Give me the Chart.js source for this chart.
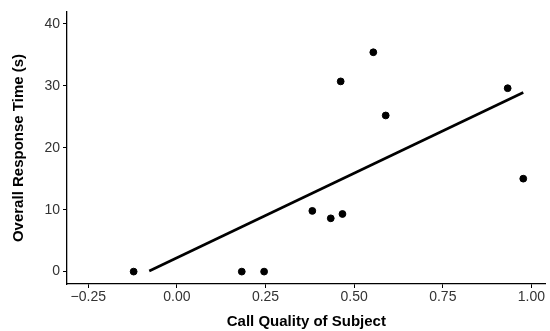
<!DOCTYPE html>
<html lang="en">
<head>
<meta charset="UTF-8" />
<title>Call Quality vs Response Time</title>
<script src="https://cdn.jsdelivr.net/npm/chart.js"></script>
<style>
    body {
        margin: 0;
        background: #fff;
    }
    .chart-box {
        width: 550px;
        height: 331px;
    }
</style>
</head>
<body>

<div class="chart-box">
    <canvas id="scatterChart"></canvas>
</div>

<script>
    // values
    const callQuality = [-0.122, 0.183, 0.246, 0.382, 0.434, 0.467, 0.462, 0.554, 0.589, 0.933, 0.977];
    const responseTime = [0, 0, 0, 9.8, 8.6, 9.3, 30.7, 35.4, 25.2, 29.6, 15.0];

    // fitted line endpoints
    const fitX = [-0.078, 0.977];
    const fitY = [0.1, 28.9];

    const xTicks = [-0.25, 0, 0.25, 0.5, 0.75, 1.0];
    const yTicks = [0, 10, 20, 30, 40];

    const points = callQuality.map((x, i) => ({ x: x, y: responseTime[i] }));
    const fitLine = fitX.map((x, i) => ({ x: x, y: fitY[i] }));

    const tickFont = { family: 'Liberation Sans, Arial, sans-serif', size: 14 };
    const titleFont = { family: 'Liberation Sans, Arial, sans-serif', size: 15, weight: 'bold' };

    const ctx = document.getElementById('scatterChart').getContext('2d');
    new Chart(ctx, {
        type: 'scatter',
        data: {
            datasets: [
                {
                    label: 'Subjects',
                    data: points,
                    backgroundColor: '#000',
                    borderColor: '#000',
                    pointRadius: 3.4,
                    pointHoverRadius: 3.4
                },
                {
                    label: 'Fit',
                    data: fitLine,
                    showLine: true,
                    borderColor: '#000',
                    borderWidth: 2.6,
                    pointRadius: 0,
                    fill: false
                }
            ]
        },
        options: {
            responsive: true,
            maintainAspectRatio: false,
            animation: false,
            layout: { padding: { top: 12, right: 3, left: 0, bottom: 0 } },
            plugins: {
                legend: { display: false },
                tooltip: { enabled: false }
            },
            scales: {
                x: {
                    type: 'linear',
                    min: -0.31,
                    max: 1.04,
                    afterBuildTicks: axis => {
                        axis.ticks = xTicks.map(v => ({ value: v }));
                    },
                    afterFit: axis => { axis.height = 47; },
                    ticks: {
                        color: '#333',
                        font: tickFont,
                        padding: 1,
                        maxRotation: 0,
                        callback: v => v.toFixed(2).replace('-', '\u2212')
                    },
                    grid: {
                        display: true,
                        drawOnChartArea: false,
                        drawTicks: true,
                        tickLength: 4,
                        color: '#000'
                    },
                    border: { display: true, color: '#000', width: 1.3 },
                    title: {
                        display: true,
                        text: 'Call Quality of Subject',
                        color: '#000',
                        font: titleFont,
                        padding: { top: 0, bottom: 0 }
                    }
                },
                y: {
                    type: 'linear',
                    min: -2.0,
                    max: 41.9,
                    afterBuildTicks: axis => {
                        axis.ticks = yTicks.map(v => ({ value: v }));
                    },
                    afterFit: axis => { axis.width = 67; },
                    ticks: {
                        color: '#333',
                        font: tickFont,
                        padding: 3
                    },
                    grid: {
                        display: true,
                        drawOnChartArea: false,
                        drawTicks: true,
                        tickLength: 4,
                        color: '#000'
                    },
                    border: { display: true, color: '#000', width: 1.3 },
                    title: {
                        display: true,
                        text: 'Overall Response Time (s)',
                        color: '#000',
                        font: titleFont,
                        padding: { top: 10, bottom: 0 }
                    }
                }
            }
        }
    });
</script>

</body>
</html>
